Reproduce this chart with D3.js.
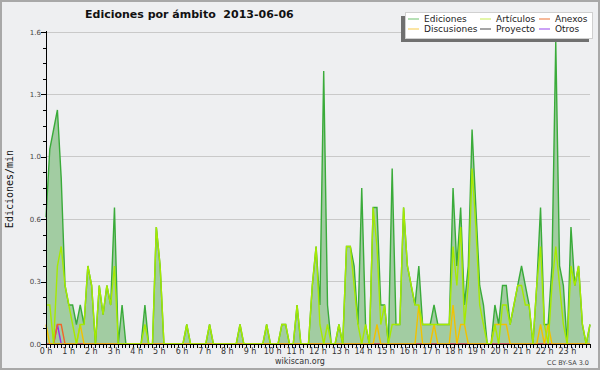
<!DOCTYPE html>
<html>
<head>
<meta charset="utf-8">
<script src="https://cdn.jsdelivr.net/npm/d3@7"></script>
<style>
  body { margin: 0; background: #eeeff1; }
  text { font-family: 'DejaVu Sans', sans-serif; }
</style>
</head>
<body>
<div id="vis"></div>
<script>
// edits per minute, one value per 10 minute slot (6 per hour, 144 slots)
let ediciones = [
  0.65, 1.0, 1.1, 1.2, 0.85, 0.3,   // 0 h
  0.2, 0.2, 0.1, 0.2, 0.1, 0.4,     // 1 h
  0.3, 0, 0.3, 0.15, 0.3, 0.2,      // 2 h
  0.7, 0, 0.2, 0, 0, 0,             // 3 h
  0, 0, 0.2, 0, 0, 0.6,             // 4 h
  0.4, 0, 0, 0, 0, 0,               // 5 h
  0, 0.1, 0, 0, 0, 0,               // 6 h
  0, 0.1, 0, 0, 0, 0,               // 7 h
  0, 0, 0, 0.1, 0, 0,               // 8 h
  0, 0, 0, 0, 0.1, 0,               // 9 h
  0, 0, 0.1, 0.1, 0, 0,             // 10 h
  0.2, 0, 0, 0, 0.3, 0.5,           // 11 h
  0.2, 1.4, 0.2, 0, 0, 0.1,         // 12 h
  0, 0.5, 0.5, 0.4, 0.1, 0.8,       // 13 h
  0.1, 0, 0.7, 0.7, 0.2, 0.2,       // 14 h
  0, 0.9, 0.1, 0.1, 0.7, 0.4,       // 15 h
  0.3, 0.2, 0.4, 0.1, 0.1, 0.1,     // 16 h
  0.2, 0.1, 0.1, 0.1, 0.1, 0.8,     // 17 h
  0.4, 0.7, 0.2, 0.4, 1.1, 0.7,     // 18 h
  0.3, 0.2, 0, 0, 0.2, 0.1,         // 19 h
  0.3, 0.3, 0.1, 0.2, 0.3, 0.4,     // 20 h
  0.3, 0.2, 0, 0.3, 0.7, 0.1,       // 21 h
  0.1, 0.4, 1.55, 0.4, 0.3, 0,      // 22 h
  0.6, 0.3, 0.4, 0.1, 0, 0.1        // 23 h
];

let articulos = [
  0.2, 0.2, 0, 0.4, 0.5, 0.3,
  0.2, 0.1, 0, 0.1, 0.1, 0.4,
  0.3, 0, 0.3, 0.15, 0.3, 0.2,
  0.4, 0, 0, 0, 0, 0,
  0, 0, 0.1, 0, 0, 0.6,
  0.4, 0, 0, 0, 0, 0,
  0, 0.1, 0, 0, 0, 0,
  0, 0.1, 0, 0, 0, 0,
  0, 0, 0, 0.1, 0, 0,
  0, 0, 0, 0, 0.1, 0,
  0, 0, 0.1, 0.1, 0, 0,
  0.2, 0, 0, 0, 0.3, 0.5,
  0.1, 0, 0.1, 0, 0, 0.1,
  0, 0.5, 0.5, 0.3, 0.1, 0,
  0.1, 0, 0.7, 0.5, 0.1, 0.2,
  0, 0.1, 0.1, 0.1, 0.7, 0.4,
  0.3, 0.2, 0.2, 0.1, 0.1, 0.1,
  0.1, 0.1, 0.1, 0.1, 0.1, 0.5,
  0.3, 0.6, 0.1, 0.3, 0.9, 0.6,
  0.2, 0.1, 0, 0, 0.1, 0,
  0.2, 0.2, 0.1, 0.2, 0.3, 0.3,
  0.2, 0.2, 0, 0.3, 0.5, 0.1,
  0, 0.3, 0.5, 0.3, 0.1, 0,
  0.4, 0.3, 0.4, 0.1, 0, 0.1
];

let discusiones = [
  0.1, 0, 0, 0, 0, 0,  0, 0, 0, 0.1, 0, 0,
  0, 0, 0, 0, 0, 0,    0, 0, 0, 0, 0, 0,
  0, 0, 0, 0, 0, 0,    0, 0, 0, 0, 0, 0,
  0, 0, 0, 0, 0, 0,    0, 0, 0, 0, 0, 0,
  0, 0, 0, 0, 0, 0,    0, 0, 0, 0, 0, 0,
  0, 0, 0, 0, 0, 0,    0, 0, 0, 0, 0, 0,
  0, 0, 0, 0, 0, 0,    0, 0, 0, 0, 0, 0,
  0, 0, 0, 0.1, 0, 0,  0, 0, 0, 0, 0, 0,
  0, 0, 0.2, 0, 0, 0,  0.1, 0, 0, 0, 0, 0.2,
  0, 0.1, 0.1, 0, 0, 0,  0, 0, 0, 0, 0.1, 0.1,
  0.1, 0.1, 0, 0, 0, 0,  0, 0, 0, 0, 0.1, 0,
  0.1, 0, 0, 0, 0, 0,  0, 0, 0, 0, 0, 0
];

let anexos = [
  0, 0, 0, 0.1, 0.1, 0,  0, 0, 0, 0, 0, 0,
  0, 0, 0, 0, 0, 0,  0, 0, 0, 0, 0, 0,
  0, 0, 0, 0, 0, 0,  0, 0, 0, 0, 0, 0,
  0, 0, 0, 0, 0, 0,  0, 0, 0, 0, 0, 0,
  0, 0, 0, 0, 0, 0,  0, 0, 0, 0, 0, 0,
  0, 0, 0, 0, 0, 0,  0, 0, 0, 0, 0, 0,
  0, 0, 0, 0, 0, 0,  0, 0, 0, 0, 0, 0,
  0, 0, 0, 0, 0, 0,  0, 0, 0, 0, 0, 0,
  0, 0, 0, 0, 0, 0,  0, 0, 0, 0, 0, 0,
  0, 0, 0, 0, 0, 0,  0, 0, 0, 0, 0, 0,
  0, 0, 0, 0, 0, 0,  0, 0, 0, 0, 0, 0,
  0, 0, 0, 0, 0, 0,  0, 0, 0, 0, 0, 0
];

let otros = [
  0, 0, 0, 0.1, 0, 0,  0, 0, 0, 0, 0, 0,
  0, 0, 0, 0, 0, 0,  0, 0, 0, 0, 0, 0,
  0, 0, 0, 0, 0, 0,  0, 0, 0, 0, 0, 0,
  0, 0, 0, 0, 0, 0,  0, 0, 0, 0, 0, 0,
  0, 0, 0, 0, 0, 0,  0, 0, 0, 0, 0, 0,
  0, 0, 0, 0, 0, 0,  0, 0, 0, 0, 0, 0,
  0, 0, 0, 0, 0, 0,  0, 0, 0, 0, 0, 0,
  0, 0, 0, 0, 0, 0,  0, 0, 0, 0, 0, 0,
  0, 0, 0, 0, 0, 0,  0, 0, 0, 0, 0, 0,
  0, 0, 0, 0, 0, 0,  0, 0, 0, 0, 0, 0,
  0, 0, 0, 0, 0, 0,  0, 0, 0, 0, 0, 0,
  0, 0, 0, 0, 0, 0,  0, 0, 0, 0, 0, 0
];

let proyecto = [
  0, 0, 0, 0, 0, 0,  0, 0, 0, 0, 0, 0,
  0, 0, 0, 0, 0, 0,  0, 0, 0, 0, 0, 0,
  0, 0, 0, 0, 0, 0,  0, 0, 0, 0, 0, 0,
  0, 0, 0, 0, 0, 0,  0, 0, 0, 0, 0, 0,
  0, 0, 0, 0, 0, 0,  0, 0, 0, 0, 0, 0,
  0, 0, 0, 0, 0, 0,  0, 0, 0, 0, 0, 0,
  0, 0, 0, 0, 0, 0,  0, 0, 0, 0, 0, 0,
  0, 0, 0, 0, 0, 0,  0, 0, 0, 0, 0, 0,
  0, 0, 0, 0, 0, 0,  0, 0, 0, 0, 0, 0,
  0, 0, 0, 0, 0, 0,  0, 0, 0, 0, 0, 0,
  0, 0, 0, 0, 0, 0,  0, 0, 0, 0, 0, 0,
  0, 0, 0, 0, 0, 0,  0, 0, 0, 0, 0, 0
];

let hourLabels = d3.range(24).map(h => h + ' h');
let yTickValues = [0, 0.32, 0.64, 0.96, 1.28, 1.6];

let title = 'Ediciones por ámbito  2013-06-06';
let yLabel = 'Ediciones/min';

// legend rows: [name, color in legend]
let legendItems = [
  ['Ediciones', '#86cc86'], ['Artículos', '#d0f070'], ['Anexos', '#f08a58'],
  ['Discusiones', '#f8d468'], ['Proyecto', '#6a6a6a'], ['Otros', '#a864f0']
];

let width = 600, height = 370;
let plot = { left: 46, right: 590, top: 32, bottom: 344 };

let svg = d3.select('#vis')
  .append('svg')
  .attr('width', width)
  .attr('height', height)
  .style('display', 'block');

// background + outer border
svg.append('rect')
  .attr('x', 1).attr('y', 1)
  .attr('width', width - 2).attr('height', height - 2)
  .attr('fill', '#eeeff1')
  .attr('stroke', '#a8a8a8')
  .attr('stroke-width', 2);

let x = d3.scaleLinear().domain([0, ediciones.length - 1]).range([plot.left, plot.right]);
let xTime = d3.scaleLinear().domain([0, 24]).range([plot.left, plot.right]);
let y = d3.scaleLinear().domain([0, 1.6]).range([plot.bottom, plot.top]);

// grid lines
svg.append('g')
  .selectAll('line')
  .data(yTickValues.slice(1))
  .join('line')
  .attr('x1', plot.left).attr('x2', plot.right)
  .attr('y1', d => y(d)).attr('y2', d => y(d))
  .attr('stroke', '#c9c9c9')
  .attr('stroke-width', 1)
  .attr('shape-rendering', 'crispEdges');

// total edits area
let area = d3.area()
  .x((d, i) => x(i))
  .y0(y(0))
  .y1(d => y(d));

let line = d3.line()
  .x((d, i) => x(i))
  .y(d => y(d));

svg.append('path')
  .datum(ediciones)
  .attr('d', area)
  .attr('fill', '#a2cca2');

svg.append('path')
  .datum(ediciones)
  .attr('d', line)
  .attr('fill', 'none')
  .attr('stroke', '#3aab3a')
  .attr('stroke-width', 1.4);

// namespace lines
let series = [
  [proyecto, '#555555'],
  [otros, '#9a2ee8'],
  [anexos, '#f0652a'],
  [discusiones, '#f2c200'],
  [articulos, '#a6ea00']
];

series.forEach(s => {
  svg.append('path')
    .datum(s[0])
    .attr('d', line)
    .attr('fill', 'none')
    .attr('stroke', s[1])
    .attr('stroke-width', 1.4);
});

// y axis
let yAxis = svg.append('g');
yAxis.append('line')
  .attr('x1', plot.left + 0.5).attr('x2', plot.left + 0.5)
  .attr('y1', plot.top - 1).attr('y2', plot.bottom)
  .attr('stroke', '#000');
yAxis.selectAll('.minor')
  .data(d3.range(0, 21))
  .join('line')
  .attr('class', 'minor')
  .attr('x1', d => d % 4 == 0 ? plot.left - 5 : plot.left - 3)
  .attr('x2', plot.left)
  .attr('y1', d => Math.round(y(d * 0.08)) + 0.5)
  .attr('y2', d => Math.round(y(d * 0.08)) + 0.5)
  .attr('stroke', '#000');
yAxis.selectAll('text')
  .data(yTickValues)
  .join('text')
  .attr('x', plot.left - 5)
  .attr('y', d => y(d) + 2.5)
  .attr('text-anchor', 'end')
  .attr('font-size', 7)
  .attr('fill', '#444')
  .text(d => d.toFixed(1));

// x axis
let xAxis = svg.append('g');
xAxis.append('line')
  .attr('x1', plot.left).attr('x2', plot.right + 1)
  .attr('y1', plot.bottom + 0.5).attr('y2', plot.bottom + 0.5)
  .attr('stroke', '#000');
xAxis.selectAll('.tick')
  .data(d3.range(0, 24 * 6 + 1))
  .join('line')
  .attr('class', 'tick')
  .attr('x1', d => Math.round(xTime(d / 6)) + 0.5)
  .attr('x2', d => Math.round(xTime(d / 6)) + 0.5)
  .attr('y1', plot.bottom)
  .attr('y2', plot.bottom + 4)
  .attr('stroke', '#000');
xAxis.selectAll('text')
  .data(hourLabels)
  .join('text')
  .attr('x', (d, i) => xTime(i))
  .attr('y', plot.bottom + 10)
  .attr('text-anchor', 'middle')
  .attr('font-size', 8)
  .attr('fill', '#333')
  .text(d => d);

// titles
svg.append('text')
  .attr('x', 85).attr('y', 18)
  .attr('font-size', 11)
  .attr('font-weight', 'bold')
  .attr('fill', '#111')
  .style('white-space', 'pre')
  .text(title);

svg.append('text')
  .attr('transform', 'translate(13,189) rotate(-90)')
  .attr('text-anchor', 'middle')
  .style('font-family', "'DejaVu Sans Mono', monospace")
  .attr('font-size', 10)
  .attr('fill', '#111')
  .text(yLabel);

svg.append('text')
  .attr('x', 300).attr('y', 364)
  .attr('text-anchor', 'middle')
  .attr('font-size', 8)
  .attr('fill', '#333')
  .text('wikiscan.org');

svg.append('text')
  .attr('x', 589).attr('y', 365)
  .attr('text-anchor', 'end')
  .attr('font-size', 6.5)
  .attr('fill', '#444')
  .text('CC BY-SA 3.0');

// legend with shadow
let legend = svg.append('g');
legend.append('rect')
  .attr('x', 401).attr('y', 16)
  .attr('width', 188).attr('height', 26)
  .attr('fill', '#707070');
legend.append('rect')
  .attr('x', 405.5).attr('y', 12.5)
  .attr('width', 187).attr('height', 26)
  .attr('fill', '#fff')
  .attr('stroke', '#d0d0d0');

let colX = [408, 480, 539];
legendItems.forEach((item, i) => {
  let cx = colX[i % 3];
  let cy = i < 3 ? 19 : 29;
  legend.append('line')
    .attr('x1', cx).attr('x2', cx + 11)
    .attr('y1', cy).attr('y2', cy)
    .attr('stroke', item[1])
    .attr('stroke-width', 1.2);
  legend.append('text')
    .attr('x', cx + 16).attr('y', cy + 3)
    .attr('font-size', 9)
    .attr('fill', '#222')
    .text(item[0]);
});
</script>
</body>
</html>
